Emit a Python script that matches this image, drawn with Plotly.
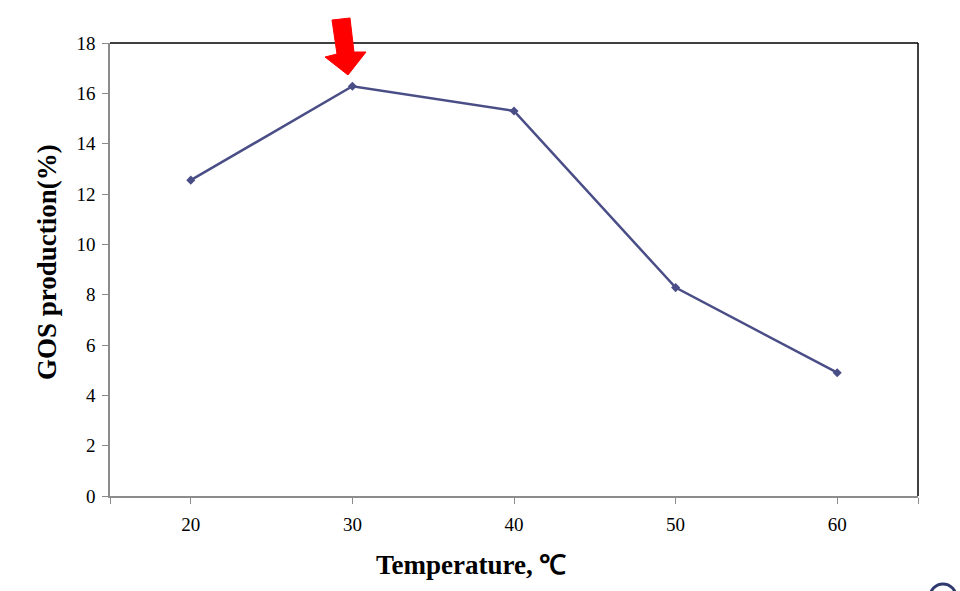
import plotly.graph_objects as go

temperature = [20, 30, 40, 50, 60]
gos_production = [12.55, 16.28, 15.3, 8.28, 4.9]
y_ticks = list(range(0, 19, 2))
x_ticks = [15, 20, 30, 40, 50, 60, 65]
x_ticktext = ["", "20", "30", "40", "50", "60", ""]

# plot area in pixels
L, R, T, B = 110, 918, 43, 496
W, H = 960, 591

def px(x):
    return (x - L) / (R - L)

def py(y):
    return (B - y) / (B - T)

fig = go.Figure()
fig.add_trace(go.Scatter(
    x=temperature, y=gos_production, mode="lines+markers",
    line=dict(color="#4A4E86", width=2.5),
    marker=dict(symbol="diamond", size=7, color="#4A4E86"),
    showlegend=False,
))

tickfont = dict(family="Liberation Serif", size=19, color="#000000")
fig.update_xaxes(
    range=[15, 65], tickmode="array", tickvals=x_ticks, ticktext=x_ticktext,
    showgrid=False, zeroline=False, showline=True, linecolor="#8C8C8C", linewidth=1.5,
    ticks="outside", ticklen=6, tickcolor="#8C8C8C", tickwidth=1,
    tickfont=tickfont, ticklabelstandoff=4,
)
fig.update_yaxes(
    range=[0, 18], tickmode="array", tickvals=y_ticks,
    showgrid=False, zeroline=False, showline=True, linecolor="#8C8C8C", linewidth=1.5,
    ticks="outside", ticklen=6, tickcolor="#8C8C8C", tickwidth=1,
    tickfont=tickfont, ticklabelstandoff=3,
)

shapes = [
    # top and right border in black
    dict(type="line", xref="paper", yref="paper", x0=0, x1=1, y0=1, y1=1,
         line=dict(color="#000000", width=1.5)),
    dict(type="line", xref="paper", yref="paper", x0=1, x1=1, y0=0, y1=1,
         line=dict(color="#000000", width=1.5)),
]
arrow_px = [(332, 20), (350, 18), (354, 52), (366, 52), (348, 75), (325, 57), (337, 54)]
path = "M " + " L ".join(f"{px(x):.5f},{py(y):.5f}" for x, y in arrow_px) + " Z"
shapes.append(dict(type="path", xref="paper", yref="paper", path=path,
                   fillcolor="#FF0000", line=dict(color="#FF0000", width=1)))
# partial logo at bottom-right corner
shapes.append(dict(type="circle", xref="paper", yref="paper",
                   x0=px(930), x1=px(956), y0=py(584), y1=py(610),
                   fillcolor="#FFFFFF", line=dict(color="#2E3A6E", width=3)))

annotations = [
    dict(text="<b>Temperature, ℃</b>", xref="paper", yref="paper",
         x=px(471), y=py(565), showarrow=False, xanchor="center", yanchor="middle",
         font=dict(family="Liberation Serif", size=27, color="#000000")),
    dict(text="<b>GOS production(%)</b>", xref="paper", yref="paper",
         x=px(47), y=py(262), showarrow=False, xanchor="center", yanchor="middle",
         textangle=-90,
         font=dict(family="Liberation Serif", size=27, color="#000000")),
]

fig.update_layout(
    width=W, height=H,
    margin=dict(l=L, r=W - R, t=T, b=H - B),
    paper_bgcolor="#FFFFFF", plot_bgcolor="#FFFFFF",
    shapes=shapes, annotations=annotations,
)

fig.write_html("out.html")
